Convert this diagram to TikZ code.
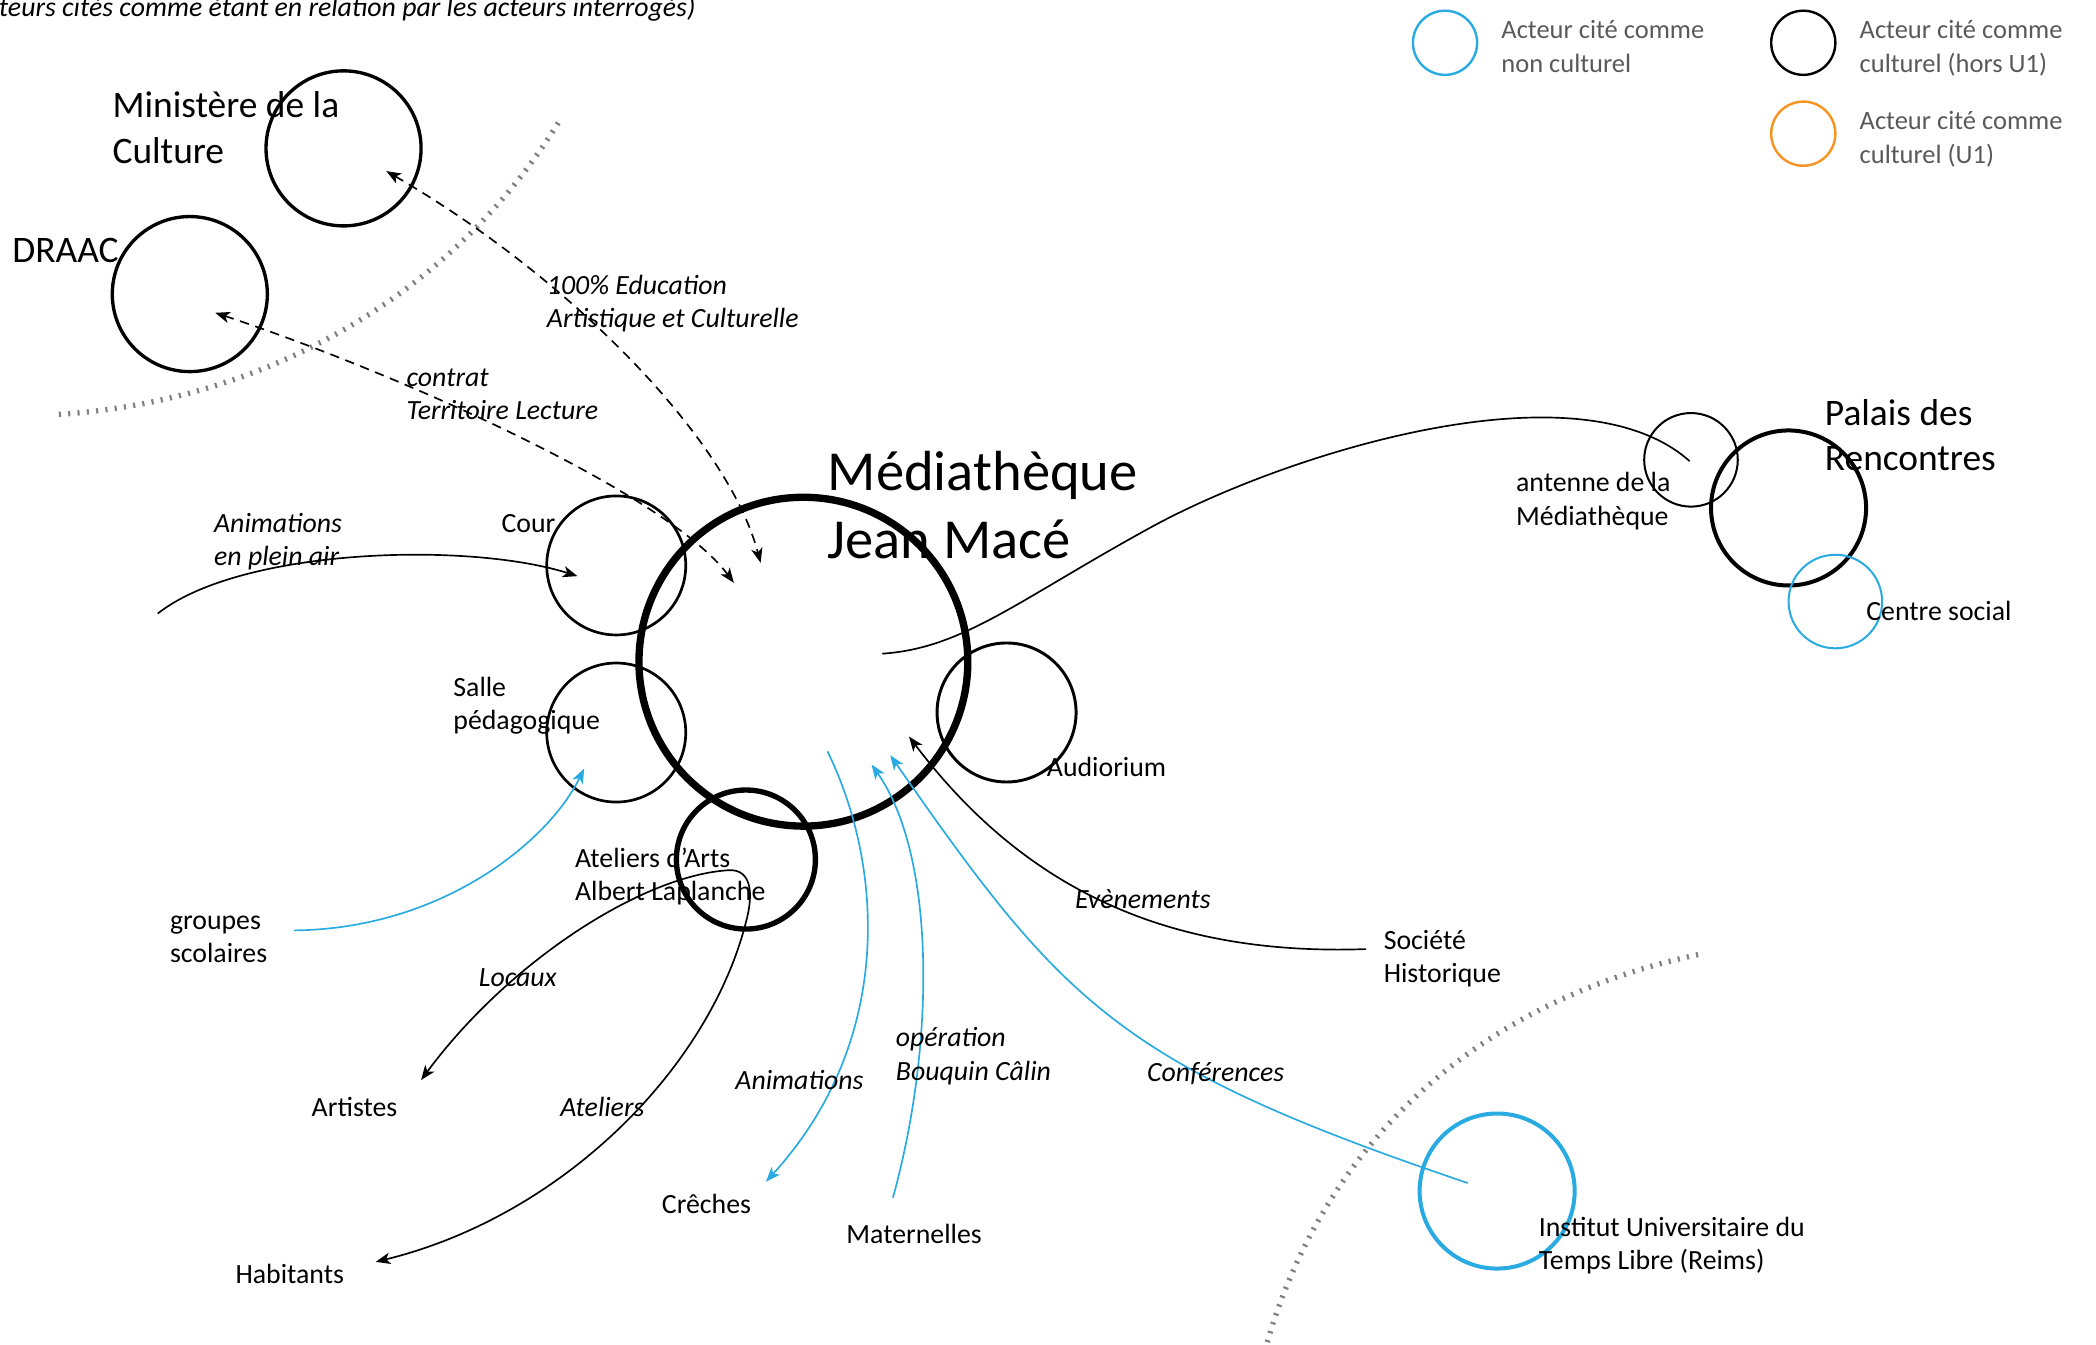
\documentclass[tikz,border=0pt]{standalone}
\usepackage{fontspec}
\setmainfont{Carlito}
\usetikzlibrary{arrows.meta}
\definecolor{cyanC}{RGB}{41,171,226}
\definecolor{orangeC}{RGB}{247,147,30}
\definecolor{legendGray}{RGB}{89,89,89}
\definecolor{dotGray}{RGB}{128,128,128}
\begin{document}
\begin{tikzpicture}[x=1pt,y=-1pt,
  actor/.style={circle, draw, inner sep=0pt, minimum size=#1},
  lbl/.style={anchor=base west, inner sep=0pt, align=left, font=\fontsize{20.8}{25}\selectfont},
  biglbl/.style={lbl, font=\fontsize{28}{34}\selectfont},
  hugelbl/.style={lbl, font=\fontsize{42.3}{51}\selectfont},
  elbl/.style={lbl, font=\fontsize{20.8}{25}\selectfont\itshape},
  leg/.style={lbl, text=legendGray, font=\fontsize{19.8}{25}\selectfont},
  conn/.style={line width=1.25pt},
  tipend/.style={-{Stealth[length=11pt,width=8.5pt,inset=3pt]}},
  tipboth/.style={{Stealth[length=11pt,width=8.5pt,inset=3pt]}-{Stealth[length=11pt,width=8.5pt,inset=3pt]}},
  dash1/.style={conn, dash pattern=on 7pt off 5pt},
  border/.style={dotGray, line width=4pt, dash pattern=on 1.6pt off 5.4pt}
]
\useasboundingbox (0,0) rectangle (1568,1006);

% title (cut off)
\node[lbl, font=\fontsize{20.8}{25}\selectfont\itshape] (title) at (-1,12) {teurs cités comme étant en relation par les acteurs interrogés)};

% legend (base = last line)
\node[actor=48pt, draw=cyanC, line width=1.8pt] (legA) at (1081,32) {};
\node[leg] (legAt) at (1123,54) {Acteur cité comme\\non culturel};
\node[actor=48pt, draw=black, line width=1.8pt] (legB) at (1349,32) {};
\node[leg] (legBt) at (1391,54) {Acteur cité comme\\culturel (hors U1)};
\node[actor=48pt, draw=orangeC, line width=1.8pt] (legC) at (1349,100) {};
\node[leg] (legCt) at (1391,122) {Acteur cité comme\\culturel (U1)};

% dotted borders
\coordinate (b1a) at (44,310);
\coordinate (b1b) at (420,88);
\draw[border] (b1a) .. controls (200,300) and (340,220) .. (b1b);
\coordinate (b2a) at (948,1004);
\coordinate (b2b) at (1271,714);
\draw[border] (b2a) .. controls (990,860) and (1100,750) .. (b2b);

% actors
\node[actor=116pt, line width=2.5pt] (mini) at (257,111) {};
\node[biglbl] (minit) at (84,122) {Ministère de la\\Culture};
\node[actor=116pt, line width=2.5pt] (draac) at (142,220) {};
\node[biglbl] (draact) at (9,196) {DRAAC};
\node[actor=246pt, line width=5.5pt] (media) at (601,495) {};
\node[hugelbl] (mediat) at (619,418) {Médiathèque\\Jean Macé};
\node[actor=104pt, line width=2pt] (cour) at (461,423) {};
\node[lbl] (court) at (375,398) {Cour};
\node[actor=104pt, line width=2pt] (salle) at (461,548) {};
\node[lbl] (sallet) at (339,546) {Salle\\pédagogique};
\node[actor=104pt, line width=4pt] (atel) at (558,643) {};
\node[lbl] (atelt) at (430,674) {Ateliers d’Arts\\Albert Laplanche};
\node[actor=104pt, line width=2.2pt] (audi) at (753,533) {};
\node[lbl] (audit) at (783,581) {Audiorium};
\node[actor=70pt, line width=1.5pt] (ant) at (1265,344) {};
\node[lbl] (antt) at (1134,393) {antenne de la\\Médiathèque};
\node[actor=116pt, line width=3pt] (palais) at (1338,380) {};
\node[biglbl] (palaist) at (1365,352) {Palais des\\Rencontres};
\node[actor=70pt, line width=1.5pt, draw=cyanC] (centre) at (1373,450) {};
\node[lbl] (centret) at (1396,464) {Centre social};
\node[actor=116pt, line width=3pt, draw=cyanC] (iutl) at (1120,891) {};
\node[lbl] (iutlt) at (1151,950) {Institut Universitaire du\\Temps Libre (Reims)};

\node[lbl] (grp) at (127,720) {groupes\\scolaires};
\node[lbl] (art) at (233,835) {Artistes};
\node[lbl] (hab) at (176,960) {Habitants};
\node[lbl] (cre) at (495,908) {Crêches};
\node[lbl] (mat) at (633,930) {Maternelles};
\node[lbl] (soc) at (1035,735) {Société\\Historique};

% connector endpoints
\coordinate (miniIn) at (289,128);
\coordinate (mediaIn1) at (569,421);
\coordinate (draacIn) at (161,234);
\coordinate (mediaIn2) at (549,436);
\coordinate (pleinAir) at (118,459);
\coordinate (courIn) at (432,431);
\coordinate (grpEnd) at (220,696);
\coordinate (salleIn) at (437,575);
\coordinate (artEnd) at (315,808);
\coordinate (atelTop) at (545,651);
\coordinate (habEnd) at (281,944);
\coordinate (mediaIn3) at (619,562);
\coordinate (creEnd) at (573,884);
\coordinate (matEnd) at (668,896);
\coordinate (mediaIn4) at (652,572);
\coordinate (iutlIn) at (1098,885);
\coordinate (mediaIn5) at (666,565);
\coordinate (socEnd) at (1022,710);
\coordinate (mediaIn6) at (680,551);
\coordinate (mediaIn7) at (660,489);
\coordinate (antIn) at (1264,345);

% connectors
\draw[dash1, tipboth] (miniIn) .. controls (430,210) and (545,330) .. (mediaIn1);
\draw[dash1, tipboth] (draacIn) .. controls (300,280) and (500,370) .. (mediaIn2);
\draw[conn, tipend] (pleinAir) .. controls (180,410) and (350,405) .. (courIn);
\draw[conn, cyanC, tipend] (grpEnd) .. controls (330,695) and (410,630) .. (salleIn);
\draw[conn, tipboth] (artEnd) .. controls (380,720) and (480,655) .. (atelTop)
  .. controls (562,650) and (564,668) .. (558,690)
  .. controls (530,800) and (420,910) .. (habEnd);
\draw[conn, cyanC, tipend] (mediaIn3) .. controls (662,650) and (668,780) .. (creEnd);
\draw[conn, cyanC, tipend] (matEnd) .. controls (700,780) and (700,640) .. (mediaIn4);
\draw[conn, cyanC, tipend] (iutlIn) .. controls (838,797) and (796,752) .. (mediaIn5);
\draw[conn, tipend] (socEnd) .. controls (880,715) and (770,670) .. (mediaIn6);
\draw[conn] (mediaIn7) .. controls (720,485) and (760,450) .. (860,395)
  .. controls (960,340) and (1180,270) .. (antIn);

% connector labels
\node[elbl] (l100) at (409,245) {100\% Education\\Artistique et Culturelle};
\node[elbl] (lctr) at (304,314) {contrat\\Territoire Lecture};
\node[elbl] (lpa) at (160,423) {Animations\\en plein air};
\node[elbl] (lloc) at (358,738) {Locaux};
\node[elbl] (latl) at (419,835) {Ateliers};
\node[elbl] (lani) at (550,815) {Animations};
\node[elbl] (lbc) at (670,808) {opération\\Bouquin Câlin};
\node[elbl] (lconf) at (858,809) {Conférences};
\node[elbl] (levt) at (804,680) {Evènements};
\end{tikzpicture}
\end{document}
